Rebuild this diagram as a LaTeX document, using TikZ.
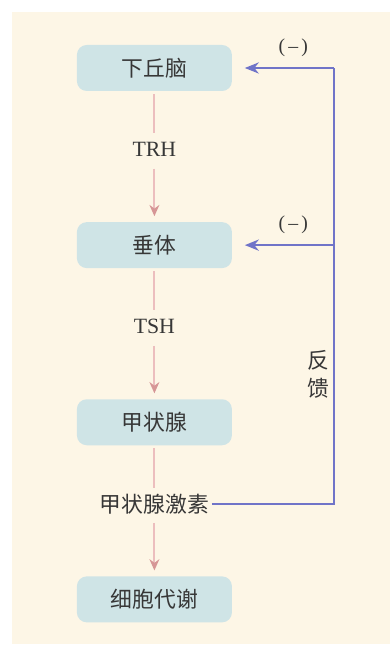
\documentclass[tikz,border=0pt]{standalone}
\usepackage{fontspec}
\setmainfont{Liberation Serif}
\newfontfamily\cjk{Noto Sans CJK SC}
\usepackage{xcolor}
\usepackage{tikz}
\usetikzlibrary{arrows.meta, positioning}

\definecolor{bgcream}{RGB}{253,246,230}
\definecolor{boxblue}{RGB}{207,228,230}
\definecolor{flowpink}{RGB}{236,190,190}
\definecolor{tippink}{RGB}{214,150,150}
\definecolor{fbblue}{RGB}{112,116,200}
\definecolor{txtgray}{RGB}{55,55,55}

\begin{document}
\begin{tikzpicture}[
    node distance=1.05cm,
    organ/.style={rectangle, rounded corners=7pt, fill=boxblue,
                  minimum width=3.875cm, minimum height=1.15cm,
                  text=txtgray, font=\cjk\fontsize{15.5}{18}\selectfont},
    hormone/.style={minimum height=0.8cm, inner sep=2pt, text=txtgray,
                    font=\fontsize{15.5}{18}\selectfont},
    line/.style={draw=flowpink, line width=1.3pt, shorten <=2pt},
    arr/.style={line, -{Stealth[length=8pt, width=7pt, color=tippink]}, shorten >=4pt},
    fbline/.style={draw=fbblue, line width=1.2pt},
    fbarr/.style={fbline, -{Stealth[length=10pt, width=8pt]}, shorten >=9pt},
    sign/.style={text=txtgray, font=\fontsize{14}{16}\selectfont}
]
\useasboundingbox (0,0) rectangle (9.75,-16.15);
\fill[bgcream] (0.3,-0.3) rectangle (9.75,-16.1);

\node[organ] at (3.86,-1.7)              (hypo)  {下丘脑};
\node[hormone, below=of hypo]            (trh)   {TRH};
\node[organ, below=1.4cm of trh]         (pit)   {垂体};
\node[hormone, below=of pit]             (tsh)   {TSH};
\node[organ, below=1.4cm of tsh]         (thy)   {甲状腺};
\node[hormone, font=\cjk\fontsize{15.5}{18}\selectfont, below=of thy] (th) {甲状腺激素};
\node[organ, below=1.4cm of th]          (cell)  {细胞代谢};

\draw[line] (hypo) -- (trh);
\draw[arr]  (trh)  -- (pit);
\draw[line] (pit)  -- (tsh);
\draw[arr]  (tsh)  -- (thy);
\draw[line] (thy)  -- (th);
\draw[arr]  (th)   -- (cell);

% feedback loop
\coordinate (fbtop) at (8.35,0 |- hypo);
\coordinate (fbmid) at (8.35,0 |- pit);
\draw[fbline] (th.east) -| (fbtop);
\draw[fbarr] (fbtop) -- node[sign, pos=0.4, above=4pt] (neg1) {(\,–\,)} (hypo.east);
\draw[fbarr] (fbmid) -- node[sign, pos=0.4, above=4pt] (neg2) {(\,–\,)} (pit.east);
\node[text=txtgray, font=\cjk\fontsize{15.5}{20}\selectfont, align=center]
    at (7.95,-9.35) (fbtext) {反\\馈};
\end{tikzpicture}
\end{document}
